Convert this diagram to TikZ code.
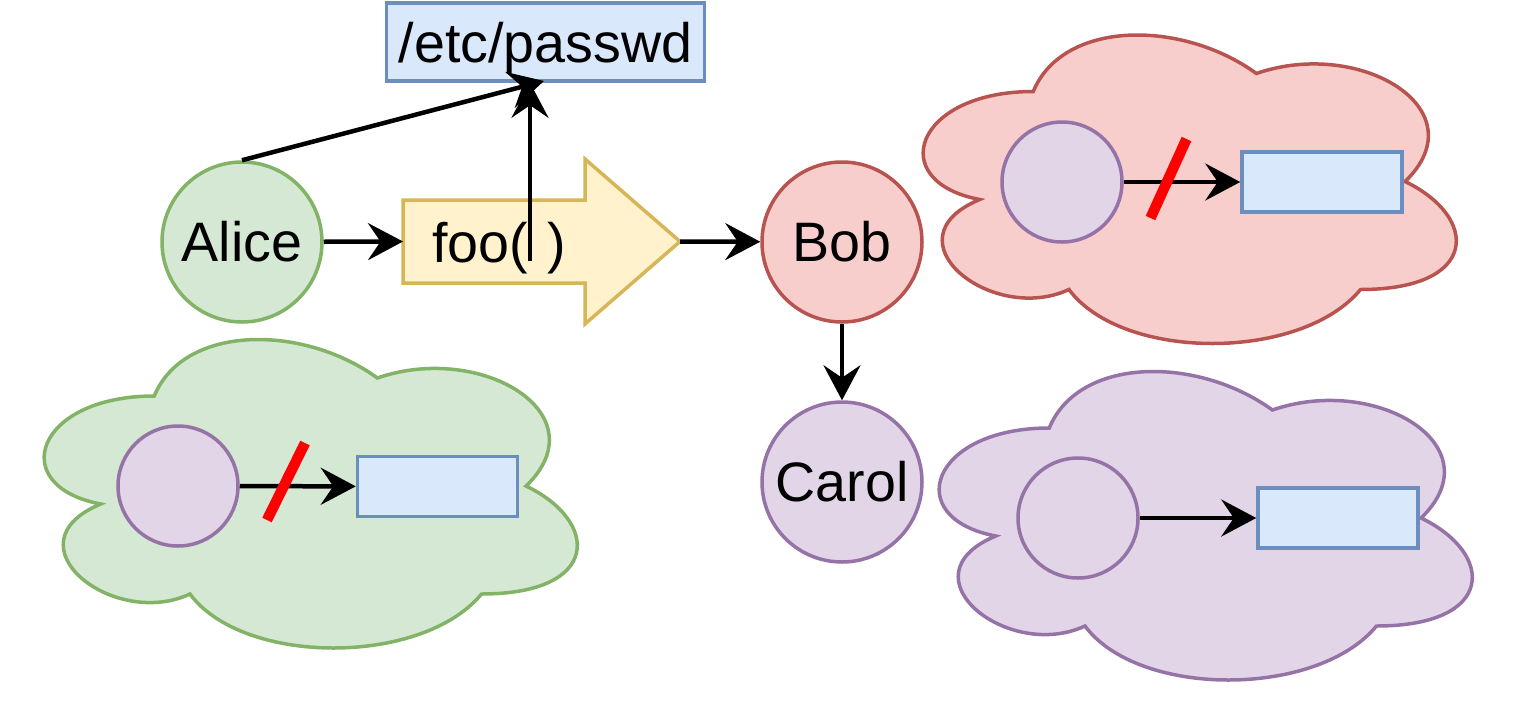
\documentclass[tikz,border=0pt]{standalone}
\usepackage{fontspec}
\setmainfont{Liberation Sans}
\usetikzlibrary{arrows.meta}
\definecolor{bluefill}{HTML}{DAE8FC}
\definecolor{bluedraw}{HTML}{6C8EBF}
\definecolor{greenfill}{HTML}{D5E8D4}
\definecolor{greendraw}{HTML}{82B366}
\definecolor{redfill}{HTML}{F8CECC}
\definecolor{reddraw}{HTML}{B85450}
\definecolor{purplefill}{HTML}{E1D5E7}
\definecolor{purpledraw}{HTML}{9673A6}
\definecolor{yellowfill}{HTML}{FFF2CC}
\definecolor{yellowdraw}{HTML}{D6B656}
\definecolor{slashred}{HTML}{FF0000}
% #1 style, #2 X0, #3 Y0, #4 width, #5 height
\newcommand{\mycloud}[5]{%
  \begin{scope}[shift={(#2,#3)}, xscale=#4, yscale=#5]
    \draw[#1] (0.25,0.25) .. controls (0.05,0.25) and (0,0.5) .. (0.16,0.55)
      .. controls (0,0.66) and (0.18,0.9) .. (0.31,0.8)
      .. controls (0.4,1) and (0.7,1) .. (0.8,0.8)
      .. controls (1,0.8) and (1,0.6) .. (0.875,0.5)
      .. controls (1,0.3) and (0.8,0.1) .. (0.625,0.2)
      .. controls (0.5,0.05) and (0.3,0.05) .. (0.25,0.25) -- cycle;
  \end{scope}}
\begin{document}
\begin{tikzpicture}[x=1pt,y=-1pt,
  every node/.style={font=\fontsize{55.6}{60}\selectfont, inner sep=0pt},
  bigcircle/.style={circle, line width=3.5pt, minimum size=160pt},
  smallcircle/.style={circle, draw=purpledraw, fill=purplefill, line width=3.5pt, minimum size=120pt},
  smallbox/.style={rectangle, draw=bluedraw, fill=bluefill, line width=3.5pt, minimum width=160pt, minimum height=60pt},
  arr/.style={line width=4.5pt, -{Stealth[length=35pt,width=37pt,inset=12.5pt]}},
  slashline/.style={draw=slashred, line width=10.5pt},
  cloudline/.style={line width=3.5pt}
]
\useasboundingbox (0,0) rectangle (1524,724);

% clouds
\mycloud{cloudline, draw=greendraw, fill=greenfill}{5.5}{306}{595}{360}
\mycloud{cloudline, draw=reddraw, fill=redfill}{884.5}{1.5}{595}{360}
\mycloud{cloudline, draw=purpledraw, fill=purplefill}{900.5}{338}{595}{360}

% main nodes
\node[rectangle, draw=bluedraw, fill=bluefill, line width=3.5pt,
      minimum width=318pt, minimum height=78pt, text depth=0pt] (passwd) at (545.5,42) {/etc/passwd};
\node[bigcircle, draw=greendraw, fill=greenfill] (alice) at (242,242) {Alice};
\node[bigcircle, draw=reddraw, fill=redfill] (bob) at (842,242) {Bob};
\node[bigcircle, draw=purpledraw, fill=purplefill] (carol) at (842,482) {Carol};

% block arrow foo( )
\draw[draw=yellowdraw, fill=yellowfill, line width=3.5pt, line join=miter]
  (403,200) -- (585,200) -- (585,159) -- (680,241.5) -- (585,324) -- (585,283) -- (403,283) -- cycle;
\coordinate (fooin) at (403,241.5);
\coordinate (footip) at (680,241.5);
\node[anchor=base west] (footext) at (432,262) {foo(\hspace{20pt})};

% connectors
\draw[arr] (alice) -- (fooin);
\draw[arr] (footip) -- (bob);
\draw[arr] (bob) -- (carol);
\coordinate (vstart) at (530,259);
\coordinate (diagend) at (544,81);
\draw[arr] (alice.north) -- (diagend);
\draw[arr, line cap=rect] (vstart) -- (vstart |- passwd.south);

% pink cloud contents
\node[smallcircle] (pc) at (1062,182) {};
\node[smallbox] (pr) at (1322,182) {};
\draw[arr] (pc) -- (pr);
\coordinate (ps1) at (1186.5,139);
\coordinate (ps2) at (1150.5,218);
\draw[slashline] (ps1) -- (ps2);

% green cloud contents
\node[smallcircle] (gc) at (178,486) {};
\node[smallbox] (gr) at (437.5,486.5) {};
\draw[arr] (gc) -- (gr);
\coordinate (gs1) at (305,443);
\coordinate (gs2) at (267,520);
\draw[slashline] (gs1) -- (gs2);

% purple cloud contents
\node[smallcircle] (uc) at (1078,518) {};
\node[smallbox] (ur) at (1338,518) {};
\draw[arr] (uc) -- (ur);
\end{tikzpicture}
\end{document}
